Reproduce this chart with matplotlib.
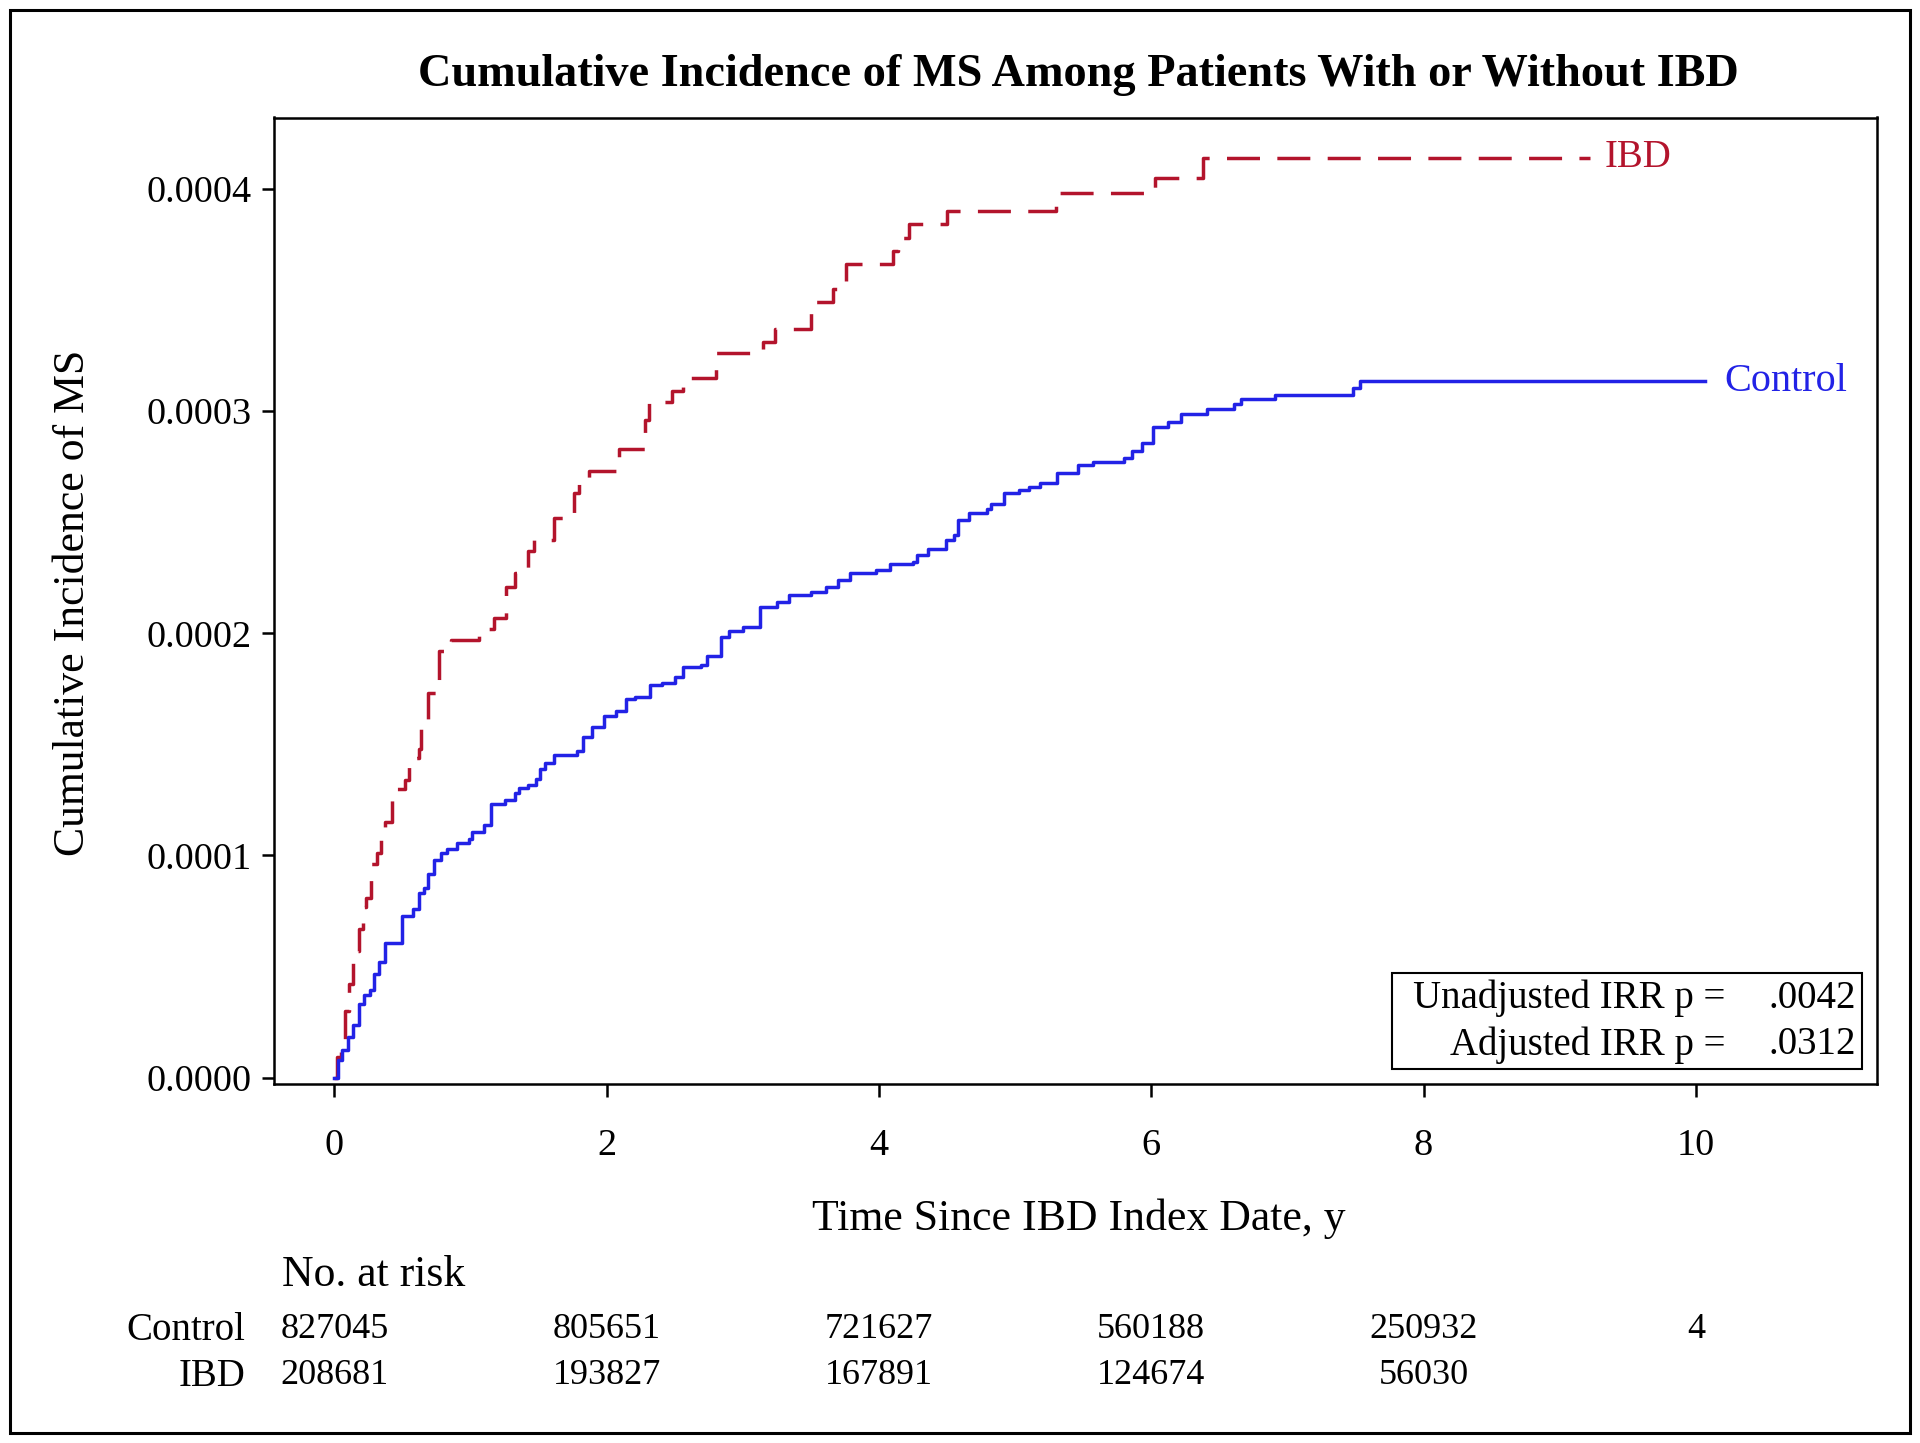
import matplotlib
matplotlib.use("Agg")
import matplotlib.pyplot as plt
from matplotlib.patches import Rectangle
import matplotlib.transforms as mtransforms

plt.rcParams['font.family'] = ['Liberation Serif', 'DejaVu Serif']

# ---- data ----
ibd_t = [0.00, 0.02, 0.05, 0.08, 0.11, 0.14, 0.18, 0.21, 0.23, 0.27, 0.31, 0.34, 0.37,
         0.42, 0.52, 0.55, 0.62, 0.64, 0.69, 0.77, 0.86, 1.06, 1.17, 1.26, 1.33, 1.42,
         1.47, 1.61, 1.76, 1.80, 1.87, 2.09, 2.28, 2.31, 2.48, 2.56, 2.80, 3.15, 3.24,
         3.50, 3.66, 3.76, 4.10, 4.14, 4.22, 4.50, 5.30, 6.03, 6.38, 9.22]
ibd_ci = [0.0, 0.0000095, 0.0000174, 0.000030, 0.000042, 0.000057, 0.000067, 0.000077,
          0.000081, 0.000096, 0.000101, 0.000111, 0.000115, 0.000130, 0.000134, 0.000144,
          0.000148, 0.000159, 0.000173, 0.000192, 0.000197, 0.000202, 0.000207, 0.000221,
          0.000227, 0.000237, 0.000242, 0.000252, 0.000263, 0.000268, 0.000273, 0.000283,
          0.000296, 0.000304, 0.000309, 0.000315, 0.000326, 0.000331, 0.000337, 0.000349,
          0.000355, 0.000366, 0.000372, 0.000378, 0.000384, 0.000390, 0.000398, 0.000405,
          0.000414, 0.000414]

ctl_t = [0.00, 0.03, 0.06, 0.10, 0.14, 0.18, 0.22, 0.26, 0.29, 0.33, 0.37, 0.50, 0.58,
         0.62, 0.66, 0.69, 0.73, 0.78, 0.83, 0.90, 0.99, 1.01, 1.10, 1.15, 1.25, 1.33,
         1.36, 1.42, 1.48, 1.51, 1.55, 1.61, 1.78, 1.83, 1.89, 1.98, 2.07, 2.14, 2.21,
         2.32, 2.41, 2.50, 2.56, 2.69, 2.74, 2.84, 2.90, 3.00, 3.13, 3.25, 3.34, 3.50,
         3.61, 3.70, 3.79, 3.98, 4.08, 4.25, 4.28, 4.36, 4.49, 4.55, 4.58, 4.66, 4.79,
         4.82, 4.92, 5.03, 5.10, 5.18, 5.31, 5.46, 5.57, 5.80, 5.86, 5.93, 6.01, 6.12,
         6.22, 6.41, 6.61, 6.66, 6.91, 7.48, 7.53, 10.07]
ctl_ci = [0.0, 0.0000079, 0.0000126, 0.0000182, 0.0000237, 0.0000332, 0.0000371,
          0.0000395, 0.0000466, 0.0000521, 0.0000608, 0.0000727, 0.0000758, 0.0000829,
          0.0000853, 0.0000916, 0.0000980, 0.0001010, 0.0001027, 0.0001058, 0.0001074,
          0.0001106, 0.0001137, 0.0001232, 0.0001248, 0.0001280, 0.0001303, 0.0001319,
          0.0001343, 0.0001390, 0.0001414, 0.0001453, 0.0001469, 0.0001532, 0.0001580,
          0.0001627, 0.0001650, 0.0001706, 0.0001714, 0.0001769, 0.0001777, 0.0001801,
          0.0001848, 0.0001856, 0.0001896, 0.0001983, 0.0002010, 0.0002030, 0.0002117,
          0.0002140, 0.0002170, 0.0002187, 0.0002210, 0.0002240, 0.0002270, 0.0002284,
          0.0002310, 0.0002320, 0.0002350, 0.0002380, 0.0002420, 0.0002440, 0.0002510,
          0.0002540, 0.0002560, 0.0002580, 0.0002630, 0.0002645, 0.0002660, 0.0002675,
          0.0002720, 0.0002757, 0.0002772, 0.0002787, 0.0002820, 0.0002857, 0.0002930,
          0.0002949, 0.0002985, 0.0003008, 0.0003030, 0.0003053, 0.0003072, 0.0003105,
          0.0003135, 0.0003135]

xticks = [0, 2, 4, 6, 8, 10]
yticks = [0.0, 0.0001, 0.0002, 0.0003, 0.0004]
risk_groups = ["Control", "IBD"]
risk_control = ["827045", "805651", "721627", "560188", "250932", "4"]
risk_ibd = ["208681", "193827", "167891", "124674", "56030", ""]
pvals_labels = ["Unadjusted IRR p =", "Adjusted IRR p ="]
pvals_values = [".0042", ".0312"]

title = "Cumulative Incidence of MS Among Patients With or Without IBD"
xlabel = "Time Since IBD Index Date, y"
ylabel = "Cumulative Incidence of MS"

RED = "#B3142C"
BLUE = "#2222E6"

W, H = 1920, 1443
fig = plt.figure(figsize=(W / 100, H / 100), dpi=100)
fig.patch.set_facecolor("white")

# outer frame
fig.add_artist(Rectangle((10 / W, 1 - 1433 / H), (1910 - 10) / W, (1433 - 10) / H,
                         transform=fig.transFigure, fill=False, lw=2.2, ec="black"))

ax_l, ax_r, ax_t, ax_b = 274, 1877, 117.5, 1083.7
ax = fig.add_axes([ax_l / W, 1 - ax_b / H, (ax_r - ax_l) / W, (ax_b - ax_t) / H])

ax.step(ibd_t, ibd_ci, where="post", color=RED, lw=2.5,
        linestyle=(0, (9.5, 5.0)))
ax.step(ctl_t, ctl_ci, where="post", color=BLUE, lw=2.5)

ax.set_xlim(-0.443, 11.33)
ax.set_ylim(-0.0000027, 0.0004321)

ax.set_xticks(xticks)
ax.set_xticklabels([str(t) for t in xticks])
ax.set_yticks(yticks)
ax.set_yticklabels([f"{v:.4f}" for v in yticks])
ax.tick_params(axis="both", which="major", direction="out", length=9, width=1.8,
               labelsize=27.5)
ax.tick_params(axis="x", pad=23)
ax.tick_params(axis="y", pad=7)
for s in ax.spines.values():
    s.set_linewidth(1.8)

ax.text(9.33, 0.000414, "IBD", color=RED, fontsize=28, ha="left", va="center")
ax.text(10.21, 0.0003135, "Control", color=BLUE, fontsize=29, ha="left", va="center")

fig.text(1078 / W, 1 - 75 / H, title, fontsize=33.3, fontweight="bold",
         ha="center", va="center")
fig.text(1079 / W, 1 - 1219 / H, xlabel, fontsize=31.5, ha="center", va="center")
fig.text(73 / W, 1 - 603 / H, ylabel, fontsize=31.5, ha="center", va="center",
         rotation=90)

# p-value box
bx0, bx1, by0, by1 = 1392, 1862, 973, 1069
fig.add_artist(Rectangle((bx0 / W, 1 - by1 / H), (bx1 - bx0) / W, (by1 - by0) / H,
                         transform=fig.transFigure, fill=False, lw=1.5, ec="black"))
for i, (lab, val) in enumerate(zip(pvals_labels, pvals_values)):
    yy = 1 - (998 + i * 47) / H
    fig.text(1725 / W, yy, lab, fontsize=28, ha="right", va="center")
    fig.text(1856 / W, yy, val, fontsize=28, ha="right", va="center")

# at-risk table
trans = mtransforms.blended_transform_factory(ax.transData, fig.transFigure)
fig.text(282 / W, 1 - 1275 / H, "No. at risk", fontsize=31.5, ha="left", va="center")
for row, (grp, vals) in enumerate(zip(risk_groups, [risk_control, risk_ibd])):
    yy = 1 - (1330 + row * 46) / H
    fig.text(245 / W, yy, grp, fontsize=28, ha="right", va="center")
    for t, v in zip(xticks, vals):
        ax.text(t, yy, v, transform=trans, fontsize=26, ha="center", va="center")

fig.savefig("out.png", dpi=100, facecolor="white")
